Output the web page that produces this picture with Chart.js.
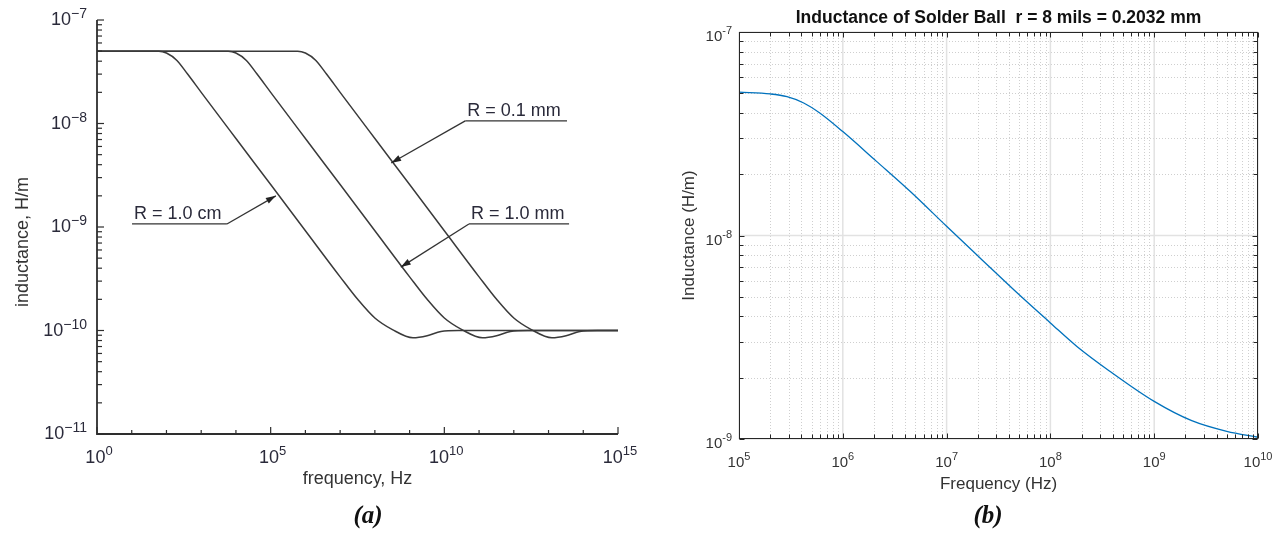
<!DOCTYPE html>
<html>
<head>
<meta charset="utf-8">
<script src="https://cdn.jsdelivr.net/npm/chart.js@4.4.1/dist/chart.umd.min.js"></script>
<style>
  html, body { margin: 0; padding: 0; background: #fff; }
  #page { position: relative; width: 1282px; height: 536px; overflow: hidden; }
  .panel { position: absolute; top: 0; height: 536px; }
  #panelA { left: 0; width: 640px; }
  #panelB { left: 640px; width: 642px; }
  .caption { position: absolute; top: 501px; line-height: 1; font: bold italic 25px "Liberation Serif", "Times New Roman", serif; color: #111; transform: translateX(-50%); }
</style>
</head>
<body>
<div id="page">
  <div class="panel" id="panelA"><canvas id="chartA" width="640" height="536"></canvas></div>
  <div class="panel" id="panelB"><canvas id="chartB" width="642" height="536"></canvas></div>
  <div class="caption" style="left:368px">(a)</div>
  <div class="caption" style="left:988px">(b)</div>
</div>
<script>
// ---- panel (a): inductance vs frequency for three radii ----
const freqR1cm = [1, 10, 60, 100, 200, 400, 1e3, 1e4, 1e5, 1e6, 1e7, 3.2e7, 1e8, 3.2e8, 1.25e9, 3.2e9, 8e9, 2.5e10, 1e15];
const indR1cm  = [5e-8, 5e-8, 5e-8, 4.8e-8, 4.07e-8, 3.02e-8, 2.0e-8, 7.16e-9, 2.57e-9, 9.2e-10, 3.3e-10, 2.0e-10, 1.32e-10, 1.02e-10, 8.5e-11, 8.9e-11, 9.8e-11, 1e-10, 1e-10];

const freqR1mm = [1, 1e3, 6e3, 1e4, 2e4, 4e4, 1e5, 1e6, 1e7, 1e8, 1e9, 3.2e9, 1e10, 3.2e10, 1.25e11, 3.2e11, 8e11, 2.5e12, 1e15];
const indR1mm  = [5e-8, 5e-8, 5e-8, 4.8e-8, 4.07e-8, 3.02e-8, 2.0e-8, 7.16e-9, 2.57e-9, 9.2e-10, 3.3e-10, 2.0e-10, 1.32e-10, 1.02e-10, 8.5e-11, 8.9e-11, 9.8e-11, 1e-10, 1e-10];

const freqR01mm = [1, 1e5, 6e5, 1e6, 2e6, 4e6, 1e7, 1e8, 1e9, 1e10, 1e11, 3.2e11, 1e12, 3.2e12, 1.25e13, 3.2e13, 8e13, 2.5e14, 1e15];
const indR01mm  = [5e-8, 5e-8, 5e-8, 4.8e-8, 4.07e-8, 3.02e-8, 2.0e-8, 7.16e-9, 2.57e-9, 9.2e-10, 3.3e-10, 2.0e-10, 1.32e-10, 1.02e-10, 8.5e-11, 8.9e-11, 9.8e-11, 1e-10, 1e-10];

const xTicksA = [1, 1e5, 1e10, 1e15];
const yTicksA = [1e-11, 1e-10, 1e-9, 1e-8, 1e-7];
const seriesNamesA = ['R = 1.0 cm', 'R = 1.0 mm', 'R = 0.1 mm'];

// ---- panel (b): solder ball r = 0.2032 mm ----
const freqBall = [1e5, 2e5, 2.9e5, 4.2e5, 6e5, 1e6, 2.1e6, 4.5e6, 1e7, 2.1e7, 5.1e7, 1e8, 1.8e8, 3.7e8, 1e9, 2.3e9, 5e9, 1e10];
const indBall  = [5.06e-8, 4.96e-8, 4.81e-8, 4.48e-8, 4.0e-8, 3.24e-8, 2.32e-8, 1.64e-8, 1.11e-8, 7.76e-9, 5.07e-9, 3.72e-9, 2.85e-9, 2.16e-9, 1.53e-9, 1.23e-9, 1.09e-9, 1.02e-9];

const xTicksB = [1e5, 1e6, 1e7, 1e8, 1e9, 1e10];
const yTicksB = [1e-9, 1e-8, 1e-7];

const FONT = '"Liberation Sans", Arial, Helvetica, sans-serif';

function toPoints(xs, ys) {
  return xs.map((x, i) => ({ x: x, y: ys[i] }));
}

// "10" with a raised exponent
function powLabel(ctx, value, x, y, align, baseSize, expSize, minus, raise, color) {
  const exp = Math.round(Math.log10(value));
  const es = (exp < 0 ? minus : '') + Math.abs(exp);
  ctx.fillStyle = color;
  ctx.textAlign = 'left';
  ctx.textBaseline = 'alphabetic';
  ctx.font = baseSize + 'px ' + FONT;
  const wb = ctx.measureText('10').width;
  ctx.font = expSize + 'px ' + FONT;
  const we = ctx.measureText(es).width;
  const left = align === 'right' ? x - wb - we : x - (wb + we) / 2;
  ctx.font = baseSize + 'px ' + FONT;
  ctx.fillText('10', left, y);
  ctx.font = expSize + 'px ' + FONT;
  ctx.fillText(es, left + wb, y - raise);
}

// callouts of panel (a), anchored in data units
const notesA = [
  { text: seriesNamesA[0], line: [10.2, 5.5e3], level: 1.07e-9, tip: [1.41e5, 2.0e-9], from: 'right' },
  { text: seriesNamesA[1], line: [5.1e10, 3.9e13], level: 1.07e-9, tip: [5.6e8, 4.1e-10], from: 'left' },
  { text: seriesNamesA[2], line: [4.0e10, 3.4e13], level: 1.06e-8, tip: [2.95e8, 4.15e-9], from: 'left' }
];

const inkA = '#2e2e2e';

const axesA = {
  id: 'axesA',
  afterDatasetsDraw(chart) {
    const { ctx, chartArea: a, scales: { x, y } } = chart;
    ctx.save();
    ctx.strokeStyle = inkA;
    ctx.lineWidth = 1.8;
    ctx.beginPath();
    ctx.moveTo(a.left, a.top);
    ctx.lineTo(a.left, a.bottom);
    ctx.lineTo(a.right, a.bottom);
    ctx.stroke();

    // x ticks every decade, longer at labelled ones
    const xMajor = xTicksA.map(v => Math.round(Math.log10(v)));
    ctx.lineWidth = 1.2;
    for (let e = 0; e <= 15; e++) {
      const px = x.getPixelForValue(Math.pow(10, e));
      const len = xMajor.includes(e) ? 7 : 4;
      ctx.beginPath();
      ctx.moveTo(px, a.bottom);
      ctx.lineTo(px, a.bottom - len);
      ctx.stroke();
    }
    // y ticks: decades + 2..9
    for (let e = -11; e <= -7; e++) {
      const py = y.getPixelForValue(Math.pow(10, e));
      ctx.beginPath();
      ctx.moveTo(a.left, py);
      ctx.lineTo(a.left + 7, py);
      ctx.stroke();
      if (e === -7) break;
      for (let k = 2; k <= 9; k++) {
        const pm = y.getPixelForValue(k * Math.pow(10, e));
        ctx.beginPath();
        ctx.moveTo(a.left, pm);
        ctx.lineTo(a.left + 5, pm);
        ctx.stroke();
      }
    }

    // tick labels
    xTicksA.forEach(v => {
      powLabel(ctx, v, x.getPixelForValue(v) + 2, a.bottom + 29, 'center', 18, 13, '\u2212', 8, '#2a2a3a');
    });
    yTicksA.forEach(v => {
      powLabel(ctx, v, a.left - 10, y.getPixelForValue(v) + 5, 'right', 18, 14, '\u2212', 7, '#2a2a3a');
    });

    // axis titles
    ctx.fillStyle = '#333';
    ctx.font = '18px ' + FONT;
    ctx.textAlign = 'center';
    ctx.fillText('frequency, Hz', (a.left + a.right) / 2, a.bottom + 50);
    ctx.save();
    ctx.translate(28, 242);
    ctx.rotate(-Math.PI / 2);
    ctx.fillText('inductance, H/m', 0, 0);
    ctx.restore();

    // callouts with underline and arrow
    notesA.forEach(n => {
      const x0 = x.getPixelForValue(n.line[0]);
      const x1 = x.getPixelForValue(n.line[1]);
      const ly = y.getPixelForValue(n.level);
      const tx = x.getPixelForValue(n.tip[0]);
      const ty = y.getPixelForValue(n.tip[1]);
      const sx = n.from === 'right' ? x1 : x0;
      ctx.strokeStyle = '#333';
      ctx.lineWidth = 1.3;
      ctx.beginPath();
      ctx.moveTo(x0, ly);
      ctx.lineTo(x1, ly);
      ctx.stroke();
      ctx.beginPath();
      ctx.moveTo(sx, ly);
      ctx.lineTo(tx, ty);
      ctx.stroke();
      const ang = Math.atan2(ty - ly, tx - sx);
      const L = 10, W = 3.2;
      ctx.fillStyle = '#222';
      ctx.beginPath();
      ctx.moveTo(tx, ty);
      ctx.lineTo(tx - L * Math.cos(ang) + W * Math.sin(ang), ty - L * Math.sin(ang) - W * Math.cos(ang));
      ctx.lineTo(tx - L * Math.cos(ang) - W * Math.sin(ang), ty - L * Math.sin(ang) + W * Math.cos(ang));
      ctx.closePath();
      ctx.fill();
      ctx.fillStyle = '#2a2a3a';
      ctx.font = '18px ' + FONT;
      ctx.textAlign = 'left';
      ctx.fillText(n.text, x0 + 2, ly - 5);
    });
    ctx.restore();
  }
};

const lineStyleA = {
  borderColor: '#3a3a3a',
  borderWidth: 1.5,
  pointRadius: 0,
  fill: false,
  cubicInterpolationMode: 'monotone'
};

new Chart(document.getElementById('chartA'), {
  type: 'line',
  data: {
    datasets: [
      Object.assign({ label: seriesNamesA[0], data: toPoints(freqR1cm, indR1cm) }, lineStyleA),
      Object.assign({ label: seriesNamesA[1], data: toPoints(freqR1mm, indR1mm) }, lineStyleA),
      Object.assign({ label: seriesNamesA[2], data: toPoints(freqR01mm, indR01mm) }, lineStyleA)
    ]
  },
  options: {
    responsive: false,
    animation: false,
    devicePixelRatio: 1,
    layout: { padding: { left: 97, right: 22, top: 20, bottom: 102 } },
    plugins: { legend: { display: false }, tooltip: { enabled: false } },
    scales: {
      x: { type: 'logarithmic', min: 1, max: 1e15, display: false },
      y: { type: 'logarithmic', min: 1e-11, max: 1e-7, display: false }
    }
  },
  plugins: [axesA]
});

// ---- panel (b) drawing helpers ----
const inkB = '#262626';

const gridB = {
  id: 'gridB',
  beforeDatasetsDraw(chart) {
    const { ctx, chartArea: a, scales: { x, y } } = chart;
    ctx.save();
    ctx.lineWidth = 1;
    // minor dotted grid
    ctx.strokeStyle = '#cfcfcf';
    ctx.setLineDash([1, 2]);
    for (let e = 5; e < 10; e++) {
      for (let k = 2; k <= 9; k++) {
        const px = Math.round(x.getPixelForValue(k * Math.pow(10, e))) + 0.5;
        ctx.beginPath(); ctx.moveTo(px, a.top); ctx.lineTo(px, a.bottom); ctx.stroke();
      }
    }
    for (let e = -9; e < -7; e++) {
      for (let k = 2; k <= 9; k++) {
        const py = Math.round(y.getPixelForValue(k * Math.pow(10, e))) + 0.5;
        ctx.beginPath(); ctx.moveTo(a.left, py); ctx.lineTo(a.right, py); ctx.stroke();
      }
    }
    // major solid grid
    ctx.setLineDash([]);
    ctx.strokeStyle = '#e2e2e2';
    ctx.lineWidth = 1.5;
    xTicksB.forEach(v => {
      const px = x.getPixelForValue(v);
      ctx.beginPath(); ctx.moveTo(px, a.top); ctx.lineTo(px, a.bottom); ctx.stroke();
    });
    yTicksB.forEach(v => {
      const py = y.getPixelForValue(v);
      ctx.beginPath(); ctx.moveTo(a.left, py); ctx.lineTo(a.right, py); ctx.stroke();
    });
    ctx.restore();
  },
  afterDatasetsDraw(chart) {
    const { ctx, chartArea: a, scales: { x, y } } = chart;
    ctx.save();
    ctx.strokeStyle = inkB;
    ctx.lineWidth = 1;
    const L = Math.round(a.left) + 0.5, R = Math.round(a.right) - 0.5;
    const T = Math.round(a.top) + 0.5, B = Math.round(a.bottom) - 0.5;
    ctx.strokeRect(L, T, R - L, B - T);

    // inward ticks on all four sides
    for (let e = 5; e <= 10; e++) {
      for (let k = 1; k <= 9; k++) {
        if (e === 10 && k > 1) break;
        const px = Math.round(x.getPixelForValue(k * Math.pow(10, e))) + 0.5;
        const len = k === 1 ? 5 : 4;
        ctx.beginPath();
        ctx.moveTo(px, B); ctx.lineTo(px, B - len);
        ctx.moveTo(px, T); ctx.lineTo(px, T + len);
        ctx.stroke();
      }
    }
    for (let e = -9; e <= -7; e++) {
      for (let k = 1; k <= 9; k++) {
        if (e === -7 && k > 1) break;
        const py = Math.round(y.getPixelForValue(k * Math.pow(10, e))) + 0.5;
        const len = k === 1 ? 5 : 4;
        ctx.beginPath();
        ctx.moveTo(L, py); ctx.lineTo(L + len, py);
        ctx.moveTo(R, py); ctx.lineTo(R - len, py);
        ctx.stroke();
      }
    }

    // tick labels
    xTicksB.forEach(v => {
      powLabel(ctx, v, x.getPixelForValue(v), a.bottom + 28, 'center', 15, 11, '-', 7, '#333');
    });
    yTicksB.forEach(v => {
      powLabel(ctx, v, a.left - 7, y.getPixelForValue(v) + 9, 'right', 15, 11, '-', 7, '#333');
    });

    // labels and title
    ctx.fillStyle = '#333';
    ctx.textAlign = 'center';
    ctx.textBaseline = 'alphabetic';
    ctx.font = '17px ' + FONT;
    ctx.fillText('Frequency (Hz)', (a.left + a.right) / 2, a.bottom + 50);
    ctx.save();
    ctx.translate(a.left - 45, (a.top + a.bottom) / 2);
    ctx.rotate(-Math.PI / 2);
    ctx.fillText('Inductance (H/m)', 0, 0);
    ctx.restore();
    ctx.fillStyle = '#111';
    ctx.font = 'bold 17.5px ' + FONT;
    ctx.fillText('Inductance of Solder Ball  r = 8 mils = 0.2032 mm', (a.left + a.right) / 2, 23);
    ctx.restore();
  }
};

new Chart(document.getElementById('chartB'), {
  type: 'line',
  data: {
    datasets: [{
      label: 'Inductance',
      data: toPoints(freqBall, indBall),
      borderColor: '#0072BD',
      borderWidth: 1.3,
      pointRadius: 0,
      fill: false,
      cubicInterpolationMode: 'monotone'
    }]
  },
  options: {
    responsive: false,
    animation: false,
    devicePixelRatio: 1,
    layout: { padding: { left: 99, right: 24, top: 32, bottom: 97 } },
    plugins: { legend: { display: false }, tooltip: { enabled: false } },
    scales: {
      x: { type: 'logarithmic', min: 1e5, max: 1e10, display: false },
      y: { type: 'logarithmic', min: 1e-9, max: 1e-7, display: false }
    }
  },
  plugins: [gridB]
});
</script>
</body>
</html>
